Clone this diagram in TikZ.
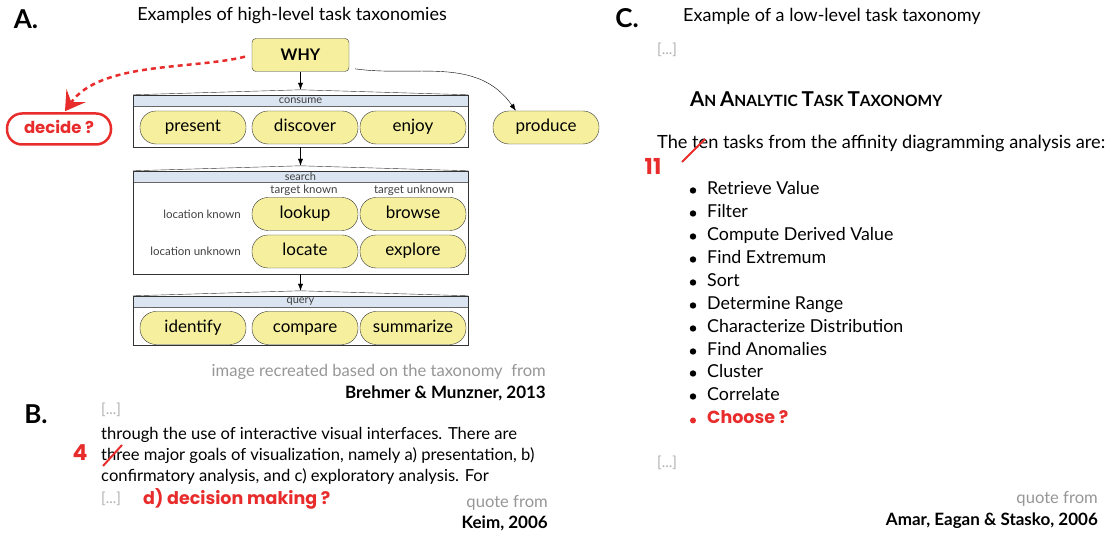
\documentclass[tikz,border=0pt]{standalone}
\usepackage{fontspec}
\setmainfont{Lato}
\newfontfamily\notefont{Poppins}
\usetikzlibrary{positioning}
\usetikzlibrary{calc}
\usetikzlibrary{arrows.meta}

\definecolor{pillyellow}{RGB}{246,240,158}
\definecolor{bandblue}{RGB}{219,229,241}
\definecolor{notered}{RGB}{232,44,44}
\definecolor{softgray}{RGB}{150,150,150}
\definecolor{dotgray}{RGB}{175,175,175}

\newcommand{\fs}[1]{\fontsize{#1}{#1}\selectfont}

\begin{document}
\begin{tikzpicture}[
                            x=1pt, y=1pt,
                            >={Latex[length=7pt,width=5pt]},
                            pill/.style={draw=black!80, fill=pillyellow, rounded corners=16pt,
                                         minimum width=106pt, minimum height=33pt, inner sep=0pt,
                                         text height=12pt, text depth=3pt, font=\fs{17}},
                            whybox/.style={draw=black!80, fill=pillyellow, rounded corners=4pt,
                                         minimum width=97pt, minimum height=33pt, font=\fs{16}\bfseries},
                            decidebox/.style={draw=notered, line width=2.5pt, fill=white, rounded corners=15pt,
                                         minimum width=104pt, minimum height=31pt, inner sep=0pt,
                                         text=notered, text height=12pt, text depth=3pt, font=\notefont\bfseries\fs{16.5}},
                            grp/.style={minimum width=335pt, inner sep=0pt},
                            grplabel/.style={font=\fs{11}, text=black!75, inner sep=0pt},
                            side/.style={font=\fs{11.5}, text=black!75, inner sep=0pt},
                            panel/.style={font=\fs{26}\bfseries, inner sep=0pt},
                            title/.style={font=\fs{18}, inner sep=0pt, anchor=base},
                            body/.style={font=\fs{16.6}, inner sep=0pt, anchor=base west},
                            task/.style={font=\fs{17.8}, inner sep=0pt, anchor=base west, text height=12pt, text depth=4pt},
                            dots/.style={font=\fs{15}, text=dotgray, inner sep=0pt, anchor=west},
                            credit/.style={font=\fs{16.6}, text=softgray, inner sep=0pt, anchor=east},
                            source/.style={font=\fs{17}\bfseries, inner sep=0pt, anchor=east},
                            note/.style={font=\notefont\bfseries\fs{17.5}, text=notered, inner sep=0pt},
                            strike/.style={draw=notered, line width=2pt}
                            ]
                            \useasboundingbox (0,0) rectangle (1109,534);

                            % panel A
                            \node[panel]                    (labA)      at (26,515)     {A.};
                            \node[title]                    (titleA)    at (292,513)    {Examples of high-level task taxonomies};
                            \node[whybox]                   (why)       at (300.5,479)  {WHY};

                            \node[grp, minimum height=52pt]  (consume)   at (300.5,413)  {};
                            \node[grp, minimum height=103pt] (search)    at (300.5,311.5) {};
                            \node[grp, minimum height=49pt]  (query)     at (300.5,213.5) {};

                            \fill[bandblue] (consume.north west) rectangle ($(consume.north east)+(0,-11)$);
                            \draw[black!60] ($(consume.north west)+(0,-11)$) -- ($(consume.north east)+(0,-11)$);
                            \draw[black!80] (consume.north west) rectangle (consume.south east);
                            \draw[black!80, fill=white] (consume.north west) -- ($(consume.north)+(0,5)$) -- (consume.north east);
                            \coordinate (consume-top) at ($(consume.north)+(0,5)$);
                            \node[grplabel] at ($(consume.north)+(0,-5.5)$) {consume};

                            \fill[bandblue] (search.north west) rectangle ($(search.north east)+(0,-11)$);
                            \draw[black!60] ($(search.north west)+(0,-11)$) -- ($(search.north east)+(0,-11)$);
                            \draw[black!80] (search.north west) rectangle (search.south east);
                            \draw[black!80, fill=white] (search.north west) -- ($(search.north)+(0,5)$) -- (search.north east);
                            \coordinate (search-top) at ($(search.north)+(0,5)$);
                            \node[grplabel] at ($(search.north)+(0,-5.5)$) {search};

                            \fill[bandblue] (query.north west) rectangle ($(query.north east)+(0,-11)$);
                            \draw[black!60] ($(query.north west)+(0,-11)$) -- ($(query.north east)+(0,-11)$);
                            \draw[black!80] (query.north west) rectangle (query.south east);
                            \draw[black!80, fill=white] (query.north west) -- ($(query.north)+(0,5)$) -- (query.north east);
                            \coordinate (query-top) at ($(query.north)+(0,5)$);
                            \node[grplabel] at ($(query.north)+(0,-5.5)$) {query};

                            \node[pill]                     (present)   at (193,406.5)  {present};
                            \node[pill]                     (discover)  at (305,406.5)  {discover};
                            \node[pill]                     (enjoy)     at (413,406.5)  {enjoy};
                            \node[pill]                     (produce)   at (546,406.5)  {produce};
                            \node[decidebox]                (decide)    at (59,405)     {decide ?};

                            \node[side]                     (tknown)    at (304,344)    {target known};
                            \node[side]                     (tunknown)  at (414,344)    {target unknown};
                            \node[pill]                     (lookup)    at (305,320)    {lookup};
                            \node[pill]                     (browse)    at (413,320)    {browse};
                            \node[pill]                     (locate)    at (305,282.5)  {locate};
                            \node[pill]                     (explore)   at (413,282.5)  {explore};
                            \node[side, anchor=east]        (lknown)    at (241,320)    {location known};
                            \node[side, anchor=east]        (lunknown)  at (241,282.5)  {location unknown};

                            \node[pill]                     (identify)  at (193,206)    {identify};
                            \node[pill]                     (compare)   at (305,206)    {compare};
                            \node[pill]                     (summarize) at (413,206)    {summarize};

                            \draw[->] (why.south)     -- (consume-top);
                            \draw[->] (consume.south) -- (search-top);
                            \draw[->] (search.south)  -- (query-top);
                            \draw[->, shorten <=6pt] (why.-15) to[out=-8, in=125] (produce.151);
                            \draw[notered, line width=2.5pt, dash pattern=on 5pt off 4pt, shorten <=7pt,
                                  -{Stealth[length=19pt, width=23pt, inset=8pt]}]
                                  (why.west) to[out=194, in=55, looseness=0.8] ($(decide.north)+(6,1)$);

                            \node[credit]                   (madeA)     at (546,162)    {image recreated based on the taxonomy\ \ from};
                            \node[source]                   (refA)      at (546,141)    {Brehmer \& Munzner, 2013};

                            % panel B
                            \node[panel]                    (labB)      at (36,120)     {B.};
                            \node[dots]                     (dotsB1)    at (101,124)    {[...]};
                            \node[body]                     (lineB1)    at (101,94)     {through the use of interactive visual interfaces. There are};
                            \node[body]                     (lineB2)    at (101,73)     {three major goals of visualization, namely a) presentation, b)};
                            \node[body]                     (lineB3)    at (101,52)     {confirmatory analysis, and c) exploratory analysis. For};
                            \node[dots]                     (dotsB2)    at (101,35)     {[...]};
                            \node[note, anchor=west]        (decision)  at (143,35)     {d) decision making ?};
                            \node[note, font=\notefont\bfseries\fs{22}] (four)  at (80,81) {4};
                            \draw[strike] (103,68) -- (122,89);
                            \node[credit]                   (quoteB)    at (548,31)     {quote from};
                            \node[source]                   (refB)      at (548,11)     {Keim, 2006};

                            % panel C
                            \node[panel]                    (labC)      at (627,516)    {C.};
                            \node[title, anchor=base west]  (titleC)    at (683,512)    {Example of a low-level task taxonomy};
                            \node[dots]                     (dotsC1)    at (657,484)    {[...]};
                            \node[body, font=\bfseries]     (heading)   at (690,427.5)
                                {\fs{20.5}A\fs{15.5}N \fs{20.5}A\fs{15.5}NALYTIC \fs{20.5}T\fs{15.5}ASK \fs{20.5}T\fs{15.5}AXONOMY};
                            \node[body, font=\fs{18.2}]     (intro)     at (657,385)    {The ten tasks from the affinity diagramming analysis are:};
                            \node[note, font=\notefont\bfseries\fs{22}] (eleven) at (653,368) {11};
                            \draw[strike] (682,372) -- (705,395);

                            \node[task]                     (t1)        at (707,339)    {Retrieve Value};
                            \node[task]                     (t2)        at (707,316)    {Filter};
                            \node[task]                     (t3)        at (707,293)    {Compute Derived Value};
                            \node[task]                     (t4)        at (707,270)    {Find Extremum};
                            \node[task]                     (t5)        at (707,247)    {Sort};
                            \node[task]                     (t6)        at (707,224)    {Determine Range};
                            \node[task]                     (t7)        at (707,201)    {Characterize Distribution};
                            \node[task]                     (t8)        at (707,178)    {Find Anomalies};
                            \node[task]                     (t9)        at (707,156)    {Cluster};
                            \node[task]                     (t10)       at (707,133)    {Correlate};
                            \node[task, font=\notefont\bfseries\fs{17.5}, text=notered] (t11) at (707,110) {Choose ?};

                            \fill ($(t1.west)+(-14,0.5)$)  circle (3.2pt);
                            \fill ($(t2.west)+(-14,0.5)$)  circle (3.2pt);
                            \fill ($(t3.west)+(-14,0.5)$)  circle (3.2pt);
                            \fill ($(t4.west)+(-14,0.5)$)  circle (3.2pt);
                            \fill ($(t5.west)+(-14,0.5)$)  circle (3.2pt);
                            \fill ($(t6.west)+(-14,0.5)$)  circle (3.2pt);
                            \fill ($(t7.west)+(-14,0.5)$)  circle (3.2pt);
                            \fill ($(t8.west)+(-14,0.5)$)  circle (3.2pt);
                            \fill ($(t9.west)+(-14,0.5)$)  circle (3.2pt);
                            \fill ($(t10.west)+(-14,0.5)$) circle (3.2pt);
                            \fill[notered] ($(t11.west)+(-14,-0.5)$) circle (3pt);

                            \node[dots]                     (dotsC2)    at (657,71)     {[...]};
                            \node[credit]                   (quoteC)    at (1098,35)    {quote from};
                            \node[source]                   (refC)      at (1098,13)    {Amar, Eagan \& Stasko, 2006};
                        \end{tikzpicture}
\end{document}
